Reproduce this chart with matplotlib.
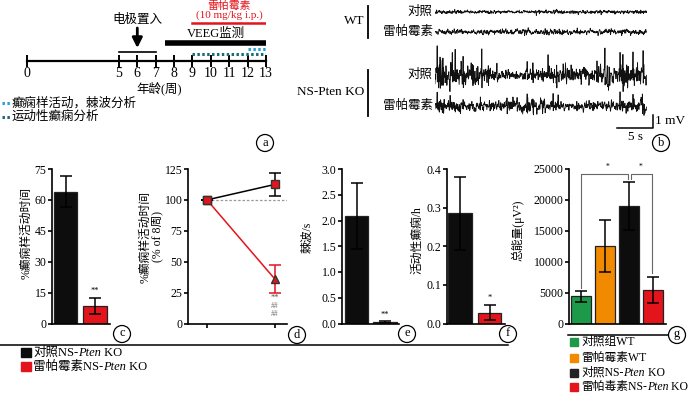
import numpy as np
import matplotlib.pyplot as plt
from matplotlib.patches import Circle, Rectangle
from matplotlib.ticker import FormatStrFormatter

plt.rcParams['font.family'] = ['Liberation Serif', 'Noto Sans CJK SC']
plt.rcParams['font.size'] = 8.5
plt.rcParams['axes.linewidth'] = 1.2

# ---- data ----
# (a) timeline, weeks
weeks = [0, 5, 6, 7, 8, 9, 10, 11, 12, 13]
electrode_span = (5, 7)
implant_week = 6
veeg_span = (7.5, 13)
rapa_span = (9, 13)
spike_span = (12, 13)
motor_span = (9, 13)

# (b) EEG traces: noise envelope (mV, 15 segments) and spikes (s, mV)
trace_labels = ['对照', '雷帕霉素', '对照', '雷帕霉素']
env_wt_ctrl = [0.11, 0.1, 0.09, 0.1, 0.08, 0.08, 0.09, 0.1, 0.11, 0.1, 0.09, 0.1, 0.1, 0.09, 0.1]
env_wt_rapa = [0.15, 0.15, 0.14, 0.15, 0.15, 0.13, 0.15, 0.16, 0.15, 0.14, 0.15, 0.15, 0.14, 0.15, 0.15]
env_ko_ctrl = [0.7, 0.65, 0.6, 0.5, 0.3, 0.22, 0.25, 0.3, 0.4, 0.45, 0.5, 0.45, 0.6, 0.65, 0.6]
env_ko_rapa = [0.38, 0.34, 0.26, 0.3, 0.26, 0.34, 0.38, 0.38, 0.3, 0.22, 0.22, 0.26, 0.3, 0.36, 0.38]
ko_ctrl_spike_t = [0.3, 0.7, 1.1, 2.4, 2.8, 3.9, 5.3, 6.5, 7.4, 8.6, 12.8, 13.6, 15.7,
                   16.9, 17.8, 22.5, 23.6, 25.7, 26.1, 27.5, 28.9]
ko_ctrl_spike_h = [2.1, 1.6, 1.8, 1.4, 1.5, 1.6, 1.2, 2.1, 1.0, 0.8, 0.9, 1.1, 1.2,
                   1.3, 1.0, 1.4, 1.8, 1.5, 1.9, 1.3, 1.6]
ko_rapa_spike_t = [0.3, 2.1, 3.9, 6.3, 10.0, 11.4, 12.8, 13.6, 16.4, 17.1, 19.7, 25.7, 27.5, 28.8]
ko_rapa_spike_h = [0.9, 0.8, 0.7, 0.8, 0.7, 0.6, 0.9, 0.7, 0.8, 0.6, 0.6, 0.7, 0.8, 0.9]

# (c) % epileptiform activity time
c_mean = [64, 8.4]
c_err = [7.6, 4.0]
# (d) % of week-8 value
d_ctrl = [100, 112.5]
d_ctrl_err = [0, 9.5]
d_rapa = [100, 36]
d_rapa_err = [0, 11]
# (e) spikes/s
e_mean = [2.08, 0.03]
e_err = [0.64, 0.02]
# (f) motor seizures/h
f_mean = [0.285, 0.028]
f_err = [0.095, 0.02]
# (g) total power
g_mean = [4400, 12500, 19000, 5400]
g_err = [880, 4200, 3850, 2100]

BLACK = '#0d0d0d'
RED = '#e3141c'
GREEN = '#1c9a4a'
ORANGE = '#f28a00'
BLUE = '#2a9fd8'
TEAL = '#1b6b74'

W, H = 700, 393
fig = plt.figure(figsize=(7, 3.93), dpi=100)


def px_axes(x0, y0, x1, y1):
    return fig.add_axes([x0 / W, 1 - y1 / H, (x1 - x0) / W, (y1 - y0) / H])


ov = px_axes(0, 0, W, H)
ov.set_xlim(0, W)
ov.set_ylim(H, 0)
ov.axis('off')


def chain(x, y, parts, size=9):
    r = fig.canvas.get_renderer()
    for s, st in parts:
        t = ov.text(x, y, s, style=st, fontsize=size, va='center', ha='left')
        bb = t.get_window_extent(r)
        x = ov.transData.inverted().transform((bb.x1, bb.y0))[0]


def tag(x, y, s):
    ov.add_patch(Circle((x, y), 8.5, fill=False, lw=0.9, color='k'))
    ov.text(x, y - 0.5, s, ha='center', va='center', fontsize=9)


# ---- (a) timeline ----
ax = px_axes(27, 0, 266, 125)
ax.set_xlim(0, 13)
ax.set_ylim(125, 0)
for s in ['left', 'top', 'right']:
    ax.spines[s].set_visible(False)
ax.spines['bottom'].set_position(('data', 61))
ax.spines['bottom'].set_linewidth(1.6)
ax.set_yticks([])
ax.set_xticks(weeks)
ax.tick_params(axis='x', direction='inout', length=8, width=1.4, labelsize=10, pad=0)
ax.patch.set_visible(False)
ax.plot(electrode_span, [52, 52], color='k', lw=1.2)
ax.annotate('', xy=(implant_week, 48), xytext=(implant_week, 28),
            arrowprops=dict(arrowstyle='-|>,head_width=0.35,head_length=0.7',
                            lw=2, color='k', shrinkA=0, shrinkB=0))
ax.text(6.0, 20, '电极置入', ha='center', va='center', fontsize=9)
ax.plot(veeg_span, [43, 43], color='k', lw=4, solid_capstyle='butt')
ax.text(10.3, 34, 'VEEG监测', ha='center', va='center', fontsize=9)
ax.plot(rapa_span, [23, 23], color=RED, lw=1.8)
ax.text(11.0, 5.5, '雷帕霉素', ha='center', va='center', fontsize=7.8, color=RED)
ax.text(11.0, 15.5, '(10 mg/kg i.p.)', ha='center', va='center', fontsize=8, color=RED)
ax.plot(spike_span, [49, 49], color=BLUE, lw=2.2, ls=(0, (0.8, 0.8)))
ax.plot(motor_span, [54, 54], color=TEAL, lw=2.2, ls=(0, (0.8, 0.8)))
ax.text(7.2, 88, '年龄(周)', ha='center', va='center', fontsize=9)

ov.plot([2, 11], [103, 103], color=BLUE, lw=2.2, ls=(0, (0.8, 0.8)))
ov.text(12, 103, '癫痫样活动，棘波分析', va='center', fontsize=9)
ov.plot([2, 11], [117, 117], color=TEAL, lw=2.2, ls=(0, (0.8, 0.8)))
ov.text(12, 117, '运动性癫痫分析', va='center', fontsize=9)
tag(265, 143, 'a')

# ---- (b) EEG traces ----
axb = px_axes(435, 0, 660, 140)
axb.set_xlim(0, 225 / 7.2)
axb.set_ylim(-140 / 13, 0)
axb.axis('off')
fs = 40
t = np.arange(0, 29.4, 1 / fs)
rng = np.random.default_rng(3)  # texture only
rows = [(-12 / 13, env_wt_ctrl, [], []),
        (-32 / 13, env_wt_rapa, [], []),
        (-75 / 13, env_ko_ctrl, ko_ctrl_spike_t, ko_ctrl_spike_h),
        (-106 / 13, env_ko_rapa, ko_rapa_spike_t, ko_rapa_spike_h)]
for (off, env, st, sh), lab in zip(rows, trace_labels):
    seg = np.repeat(env, int(np.ceil(len(t) / len(env))))[:len(t)]
    sig = np.convolve(rng.standard_normal(len(t)), [0.3, 0.5, 0.3], 'same') * seg
    for ts, hs in zip(st, sh):
        i = int(ts * fs)
        sig[i] += hs
        sig[min(i + 1, len(t) - 1)] -= 0.4 * hs
    axb.plot(t, sig + off, color='#111', lw=0.6)
    axb.text(-0.3, off, lab, ha='right', va='center', fontsize=9)
axb.plot([25.3, 30.3, 30.3], [-128 / 13, -128 / 13, -115 / 13], color='k', lw=1.1)
axb.text(30.6, -121 / 13, '1 mV', va='center', fontsize=9.5)
axb.text(27.8, -131 / 13, '5 s', ha='center', va='top', fontsize=9.5)

ov.plot([368, 368], [6, 38], color='k', lw=1.3)
ov.text(364, 21, 'WT', ha='right', va='center', fontsize=9.5)
ov.plot([368, 368], [70, 116], color='k', lw=1.3)
ov.text(364, 92, 'NS-Pten KO', ha='right', va='center', fontsize=9.5)
tag(661, 143, 'b')


# ---- bar panels ----
def style(ax):
    for s in ['top', 'right']:
        ax.spines[s].set_visible(False)
    ax.tick_params(direction='out', length=3, width=1.2, labelsize=8.5, pad=1)
    ax.patch.set_visible(False)


def bars(ax, means, errs, colors, width):
    x = np.arange(len(means))
    ax.bar(x, means, width=width, color=colors, edgecolor='#222', lw=0.9, zorder=2)
    ax.errorbar(x, means, yerr=errs, fmt='none', ecolor='k', elinewidth=1.1,
                capsize=4, capthick=1.1, zorder=3)
    ax.set_xticks([])


# (c)
ax = px_axes(52, 169, 110, 323.5)
style(ax)
bars(ax, c_mean, c_err, [BLACK, RED], 0.8)
ax.set_xlim(-0.458, 1.508)
ax.set_ylim(0, 75)
ax.set_yticks([0, 15, 30, 45, 60, 75])
ax.text(1, c_mean[1] + c_err[1] + 1.5, '**', ha='center', va='bottom', fontsize=6)
ov.text(26, 233, '%癫痫样活动时间', rotation=90, ha='center', va='center', fontsize=8.5)

# (d)
ax = px_axes(188, 169, 287, 323.5)
style(ax)
ax.set_xlim(-0.28, 1.18)
ax.set_ylim(0, 125)
ax.set_yticks([0, 25, 50, 75, 100, 125])
ax.set_xticks([0, 1])
ax.set_xticklabels([])
ax.axhline(100, xmin=0.19, color='#999', lw=0.9, ls=(0, (2, 1.5)), zorder=1)
ax.errorbar([0, 1], d_ctrl, yerr=d_ctrl_err, color='k', lw=1.1, capsize=4, capthick=1.1,
            marker='s', ms=6, mfc=RED, mec='#333', zorder=3)
ax.errorbar([0, 1], d_rapa, yerr=d_rapa_err, color=RED, lw=1.1, capsize=4, capthick=1.1,
            zorder=2)
ax.plot([0], [d_rapa[0]], 's', ms=6, mfc=RED, mec='#333', zorder=4)
ax.plot([1], [d_rapa[1]], '^', ms=6, mfc=RED, mec='#333', zorder=4)
ax.text(1, 21, '**', ha='center', va='center', fontsize=6, color='#555')
ax.text(1, 14.5, '##', ha='center', va='center', fontsize=5.5, color='#777')
ax.text(1, 8, '##', ha='center', va='center', fontsize=5.5, color='#777')
ov.text(151, 237, '%癫痫样活动时间\n(% of 8周)', rotation=90, ha='center', va='center',
        fontsize=8.5, linespacing=1.0)

# (e)
ax = px_axes(342, 169, 399, 323.5)
style(ax)
bars(ax, e_mean, e_err, [BLACK, RED], 0.81)
ax.set_xlim(-0.509, 1.491)
ax.set_ylim(0, 3.0)
ax.set_yticks(np.arange(0, 3.01, 0.5))
ax.yaxis.set_major_formatter(FormatStrFormatter('%.1f'))
ax.text(1, 0.08, '**', ha='center', va='bottom', fontsize=6)
ov.text(307, 237, '棘波/s', rotation=90, ha='center', va='center', fontsize=8.5)

# (f)
ax = px_axes(447, 169, 505, 323.5)
style(ax)
bars(ax, f_mean, f_err, [BLACK, RED], 0.8)
ax.set_xlim(-0.44, 1.525)
ax.set_ylim(0, 0.4)
ax.set_yticks(np.arange(0, 0.41, 0.1))
ax.yaxis.set_major_formatter(FormatStrFormatter('%.1f'))
ax.text(1, f_mean[1] + f_err[1] + 0.008, '*', ha='center', va='bottom', fontsize=6)
ov.text(417, 240, '活动性癫痫/h', rotation=90, ha='center', va='center', fontsize=8.5)

# (g)
ax = px_axes(569, 169, 666, 323.5)
style(ax)
bars(ax, g_mean, g_err, [GREEN, ORANGE, BLACK, RED], 0.84)
ax.set_xlim(-0.525, 3.55)
ax.set_ylim(0, 25000)
ax.set_yticks(np.arange(0, 25001, 5000))
br = dict(color='#666', lw=0.8, clip_on=False)
ax.plot([0, 0, 1.95, 1.95], [5750, 24190, 24190, 23380], **br)
ax.plot([2.07, 2.07, 2.96, 2.96], [23380, 24190, 24190, 8220], **br)
ax.text(1.1, 25300, '*', ha='center', va='center', fontsize=5.5, clip_on=False)
ax.text(2.5, 25300, '*', ha='center', va='center', fontsize=5.5, clip_on=False)
ov.text(518, 230, '总能量(μV²)', rotation=90, ha='center', va='center', fontsize=8.5)

# ---- bottom labels / legends ----
ov.plot([0, 508], [344.5, 344.5], color='k', lw=1.1)
ov.plot([568, 668], [335, 335], color='k', lw=1.1)
tag(122, 334, 'c')
tag(297, 335, 'd')
tag(407, 334, 'e')
tag(508, 334, 'f')
tag(677, 335, 'g')

ov.add_patch(Rectangle((21, 348), 10, 9, color=BLACK))
chain(33, 352.5, [('对照NS-', 'normal'), ('Pten', 'italic'), (' KO', 'normal')])
ov.add_patch(Rectangle((21, 362), 10, 9, color=RED))
chain(33, 366.5, [('雷帕霉素NS-', 'normal'), ('Pten', 'italic'), (' KO', 'normal')])

g_labels = [[('对照组WT', 'normal')],
            [('雷帕霉素WT', 'normal')],
            [('对照NS-', 'normal'), ('Pten', 'italic'), (' KO', 'normal')],
            [('雷帕毒素NS-', 'normal'), ('Pten', 'italic'), (' KO', 'normal')]]
for yy, col, lab in zip([342, 357.5, 372.5, 387], [GREEN, ORANGE, '#222', RED], g_labels):
    ov.add_patch(Rectangle((570, yy - 4), 8, 8, color=col))
    chain(581, yy, lab, size=8.5)

fig.savefig('out.png', dpi=100)
